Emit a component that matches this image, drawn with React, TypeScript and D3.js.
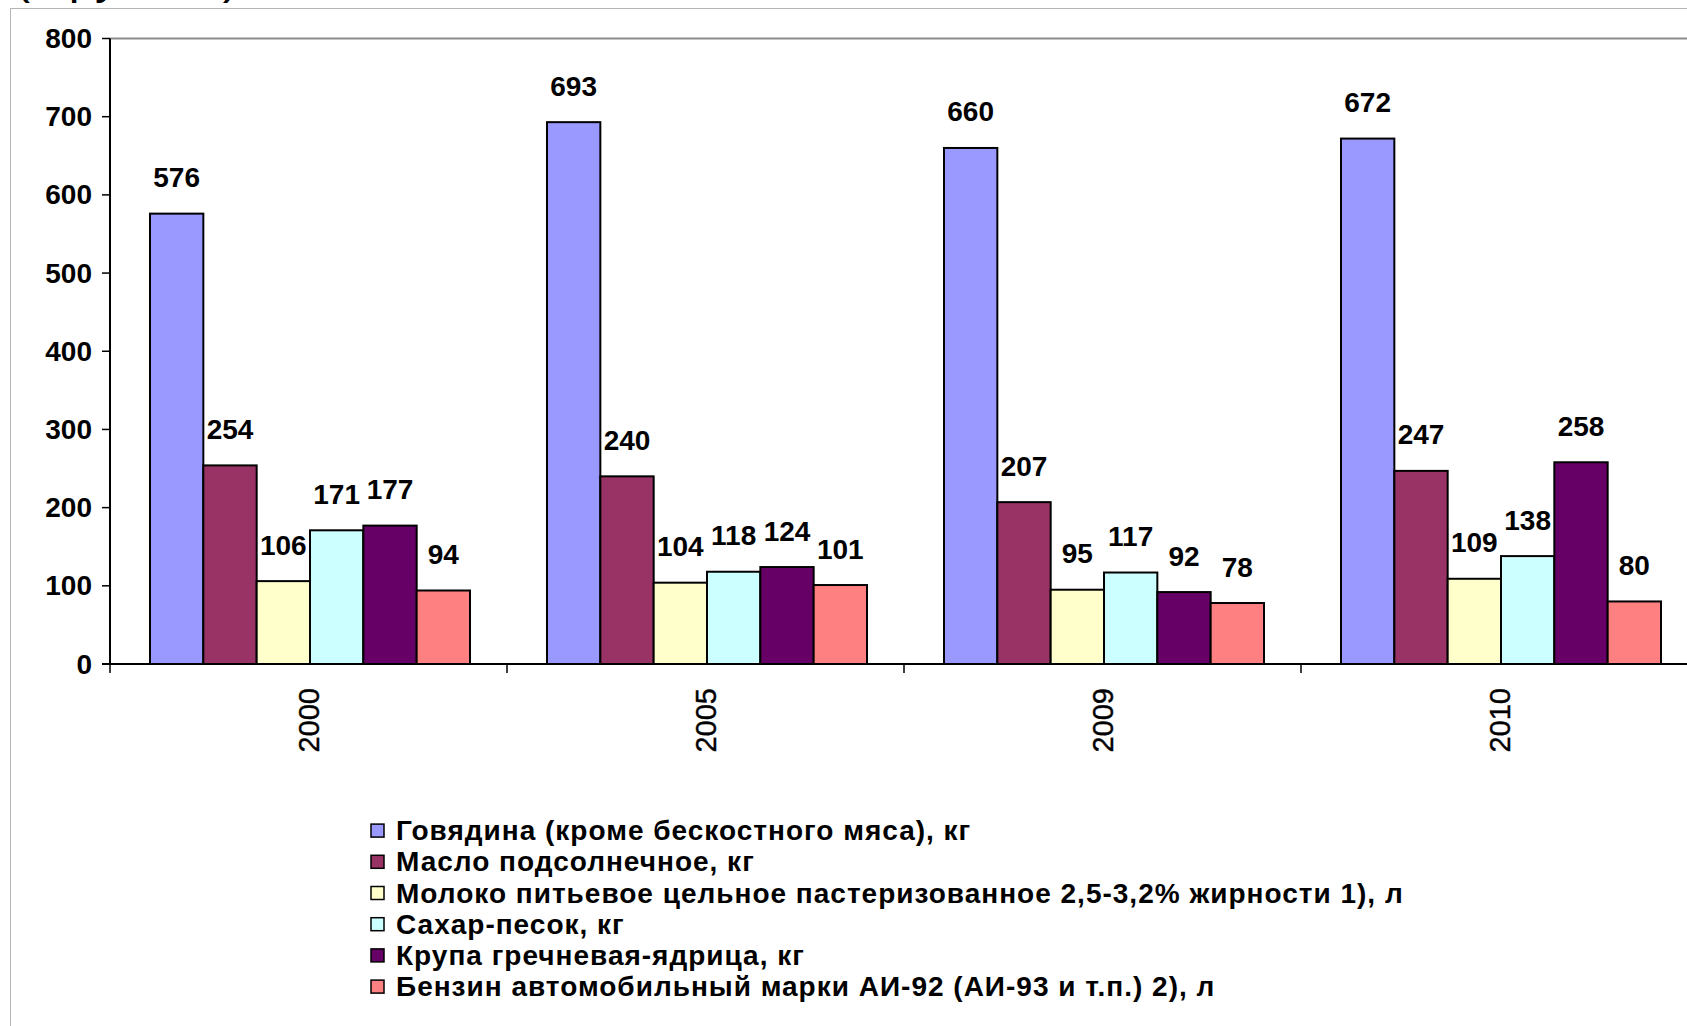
import React from 'react';
import * as d3 from 'd3';

const years = ['2000', '2005', '2009', '2010'];
const seriesNames = [
  'Говядина (кроме бескостного мяса), кг',
  'Масло подсолнечное, кг',
  'Молоко питьевое цельное пастеризованное 2,5-3,2% жирности 1), л',
  'Сахар-песок, кг',
  'Крупа гречневая-ядрица, кг',
  'Бензин автомобильный марки АИ-92 (АИ-93 и т.п.) 2), л',
];
const beef = [576, 693, 660, 672];
const sunflowerOil = [254, 240, 207, 247];
const milk = [106, 104, 95, 109];
const sugar = [171, 118, 117, 138];
const buckwheat = [177, 124, 92, 258];
const petrol = [94, 101, 78, 80];
const yTicks = [0, 100, 200, 300, 400, 500, 600, 700, 800];

const seriesValues = [beef, sunflowerOil, milk, sugar, buckwheat, petrol];
const colors = ['#9999FF', '#993366', '#FFFFCC', '#CCFFFF', '#660066', '#FF8080'];

const W = 1687;
const H = 1026;
const FONT = '"Liberation Sans", Arial, sans-serif';

const App: React.FC = () => {
  const x = d3.scaleBand<string>().domain(years).range([110, 110 + 4 * 397]);
  const bw = x.bandwidth();
  // bars sit inside each year band, leaving Excel-like gaps on both sides
  const xInner = d3
    .scaleBand<number>()
    .domain(d3.range(seriesNames.length))
    .range([40, 360]);
  const y = d3.scaleLinear().domain([0, 800]).range([664, 38.5]);

  const legendX = 371;
  const legendY0 = 830.6;
  const legendStep = 31.2;

  return (
    <svg
      width={W}
      height={H}
      style={{ position: 'absolute', left: 0, top: 0, background: '#fff' }}
      fontFamily={FONT}
    >
      {/* caption above, mostly cut off by the top edge */}
      <text x={14} y={-7} fontSize={48} fill="#000">
        (в рублях)
      </text>
      {/* outer frame */}
      <rect x={10.5} y={8.5} width={W + 20} height={H + 20} fill="none" stroke="#b4b4b4" strokeWidth={1} />

      {/* top plot border */}
      <line x1={x.range()[0]} x2={W} y1={y(800)} y2={y(800)} stroke="#8c8c8c" strokeWidth={2} />

      {/* bars */}
      {years.map((yr, gi) => (
        <g key={yr} transform={`translate(${x(yr)},0)`}>
          {seriesValues.map((vals, si) => {
            const v = vals[gi];
            return (
              <g key={si}>
                <rect
                  x={xInner(si)}
                  y={y(v)}
                  width={xInner.bandwidth()}
                  height={y(0) - y(v)}
                  fill={colors[si]}
                  stroke="#000"
                  strokeWidth={2}
                />
                <text
                  x={(xInner(si) as number) + xInner.bandwidth() / 2}
                  y={y(v) - 36}
                  textAnchor="middle"
                  dominantBaseline="central"
                  fontSize={28}
                  fontWeight="bold"
                >
                  {v}
                </text>
              </g>
            );
          })}
        </g>
      ))}

      {/* y axis */}
      <line x1={110} x2={110} y1={y(800)} y2={y(0) + 1} stroke="#000" strokeWidth={2} />
      {yTicks.map((t) => (
        <g key={t}>
          <line x1={102} x2={110} y1={y(t)} y2={y(t)} stroke="#000" strokeWidth={1.5} />
          <text
            x={92}
            y={y(t)}
            textAnchor="end"
            dominantBaseline="central"
            fontSize={28}
            fontWeight="bold"
          >
            {t}
          </text>
        </g>
      ))}

      {/* x axis */}
      <line x1={102} x2={W} y1={y(0)} y2={y(0)} stroke="#000" strokeWidth={2} />
      {years.map((yr) => (
        <line
          key={`tk${yr}`}
          x1={x(yr)}
          x2={x(yr)}
          y1={y(0)}
          y2={y(0) + 9}
          stroke="#000"
          strokeWidth={1.5}
        />
      ))}
      {years.map((yr) => {
        const cx = (x(yr) as number) + bw / 2;
        const cy = 688;
        return (
          <text
            key={`lb${yr}`}
            transform={`translate(${cx},${cy}) rotate(-90)`}
            textAnchor="end"
            dominantBaseline="central"
            fontSize={29}
            stroke="#000"
            strokeWidth={0.4}
          >
            {yr}
          </text>
        );
      })}

      {/* legend */}
      {seriesNames.map((name, i) => {
        const cy = legendY0 + i * legendStep;
        return (
          <g key={name}>
            <rect x={legendX} y={cy - 6.5} width={13} height={13} fill={colors[i]} stroke="#000" strokeWidth={1.5} />
            <text
              x={396}
              y={cy}
              dominantBaseline="central"
              fontSize={28}
              fontWeight="bold"
              letterSpacing={1}
            >
              {name}
            </text>
          </g>
        );
      })}
    </svg>
  );
};

export default App;
